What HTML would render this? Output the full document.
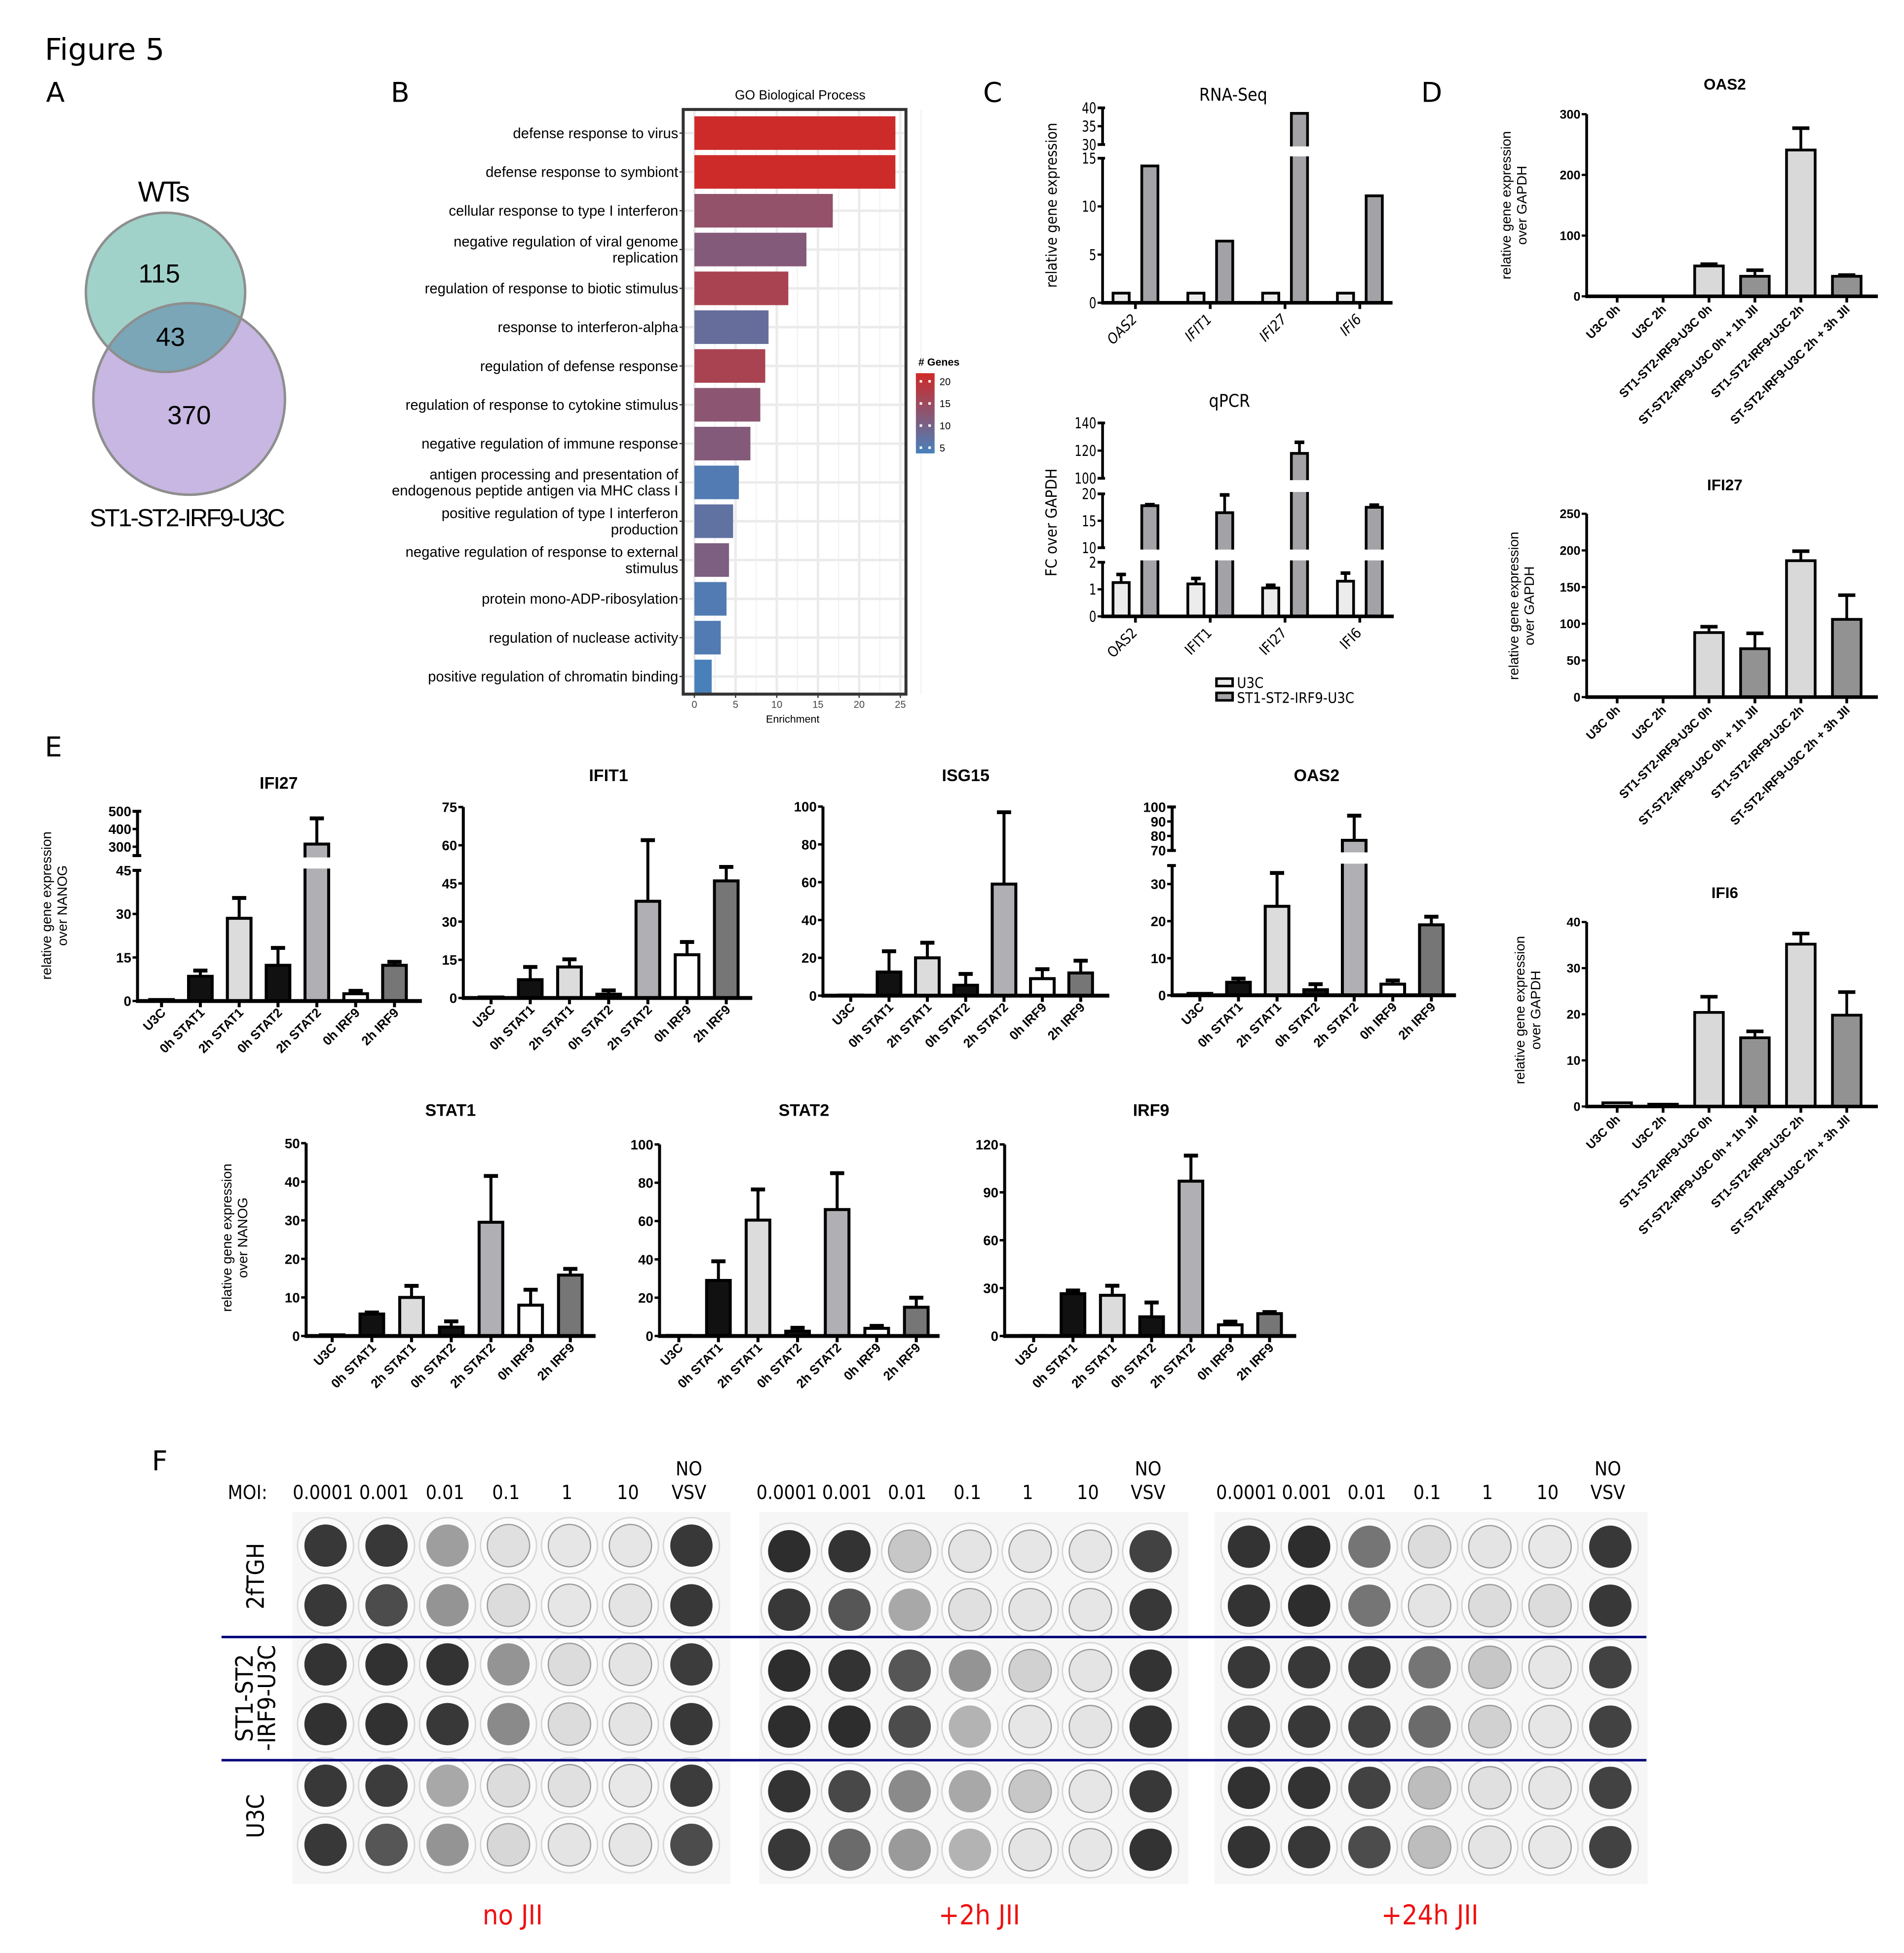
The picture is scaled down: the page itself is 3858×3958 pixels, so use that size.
<!DOCTYPE html>
<html><head><meta charset="utf-8"><style>html,body{margin:0;padding:0;background:#fff}svg{display:block}</style></head>
<body>
<svg id="fig" xmlns="http://www.w3.org/2000/svg" width="3858" height="3958" viewBox="0 0 1530 1570" preserveAspectRatio="none" font-family="Liberation Sans, Arial, sans-serif">
<rect width="1530" height="1570" fill="#fff"/>
<text x="36" y="48" font-size="24" font-family="DejaVu Sans, sans-serif">Figure 5</text>
<text x="37" y="82" font-size="22" font-family="DejaVu Sans, sans-serif">A</text>
<text x="314" y="82" font-size="22" font-family="DejaVu Sans, sans-serif">B</text>
<text x="790" y="82" font-size="22" font-family="DejaVu Sans, sans-serif">C</text>
<text x="1142" y="82" font-size="22" font-family="DejaVu Sans, sans-serif">D</text>
<text x="36" y="608" font-size="22" font-family="DejaVu Sans, sans-serif">E</text>
<text x="122" y="1182" font-size="22" font-family="DejaVu Sans, sans-serif">F</text>

<g>
<defs><clipPath id="tealclip"><circle cx="133" cy="235" r="64"/></clipPath></defs>
<circle cx="152" cy="320.7" r="77" fill="#c7b7e2"/>
<circle cx="133" cy="235" r="64" fill="#a0d2ca"/>
<circle cx="152" cy="320.7" r="77" fill="#7aa6b8" clip-path="url(#tealclip)"/>
<circle cx="152" cy="320.7" r="77" fill="none" stroke="#8e8e8e" stroke-width="2"/>
<circle cx="133" cy="235" r="64" fill="none" stroke="#8e8e8e" stroke-width="2"/>
<text x="131" y="162" font-size="23" text-anchor="middle" letter-spacing="-1.5">WTs</text>
<text x="128" y="227" font-size="21" text-anchor="middle">115</text>
<text x="137" y="278" font-size="21" text-anchor="middle">43</text>
<text x="152" y="341" font-size="21" text-anchor="middle">370</text>
<text x="150" y="423" font-size="20" text-anchor="middle" letter-spacing="-1.3">ST1-ST2-IRF9-U3C</text>
</g>

<g id="goChart"></g>
<g id="cCharts"></g>
<g id="dCharts"></g>
<g id="eCharts"></g>
<g id="fPanel"></g>
</svg>
<script>
// ---------- GO chart data ----------
const goTerms = [["defense response to virus"],["defense response to symbiont"],["cellular response to type I interferon"],["negative regulation of viral genome","replication"],["regulation of response to biotic stimulus"],["response to interferon-alpha"],["regulation of defense response"],["regulation of response to cytokine stimulus"],["negative regulation of immune response"],["antigen processing and presentation of","endogenous peptide antigen via MHC class I"],["positive regulation of type I interferon","production"],["negative regulation of response to external","stimulus"],["protein mono-ADP-ribosylation"],["regulation of nuclease activity"],["positive regulation of chromatin binding"]];
const goEnrichment = [24.4,24.4,16.8,13.6,11.4,9,8.6,8,6.8,5.4,4.7,4.2,3.9,3.2,2.1];
const goGenes = [21,21,13,11,16,7,16,12,11,4,6,10,4,4,3];
const goTicks = [0,5,10,15,20,25];
const goLegendTicks = [5,10,15,20];

// ---------- Panel C data ----------
const cGenes = ["OAS2","IFIT1","IFI27","IFI6"];
const rnaU3C = [1,1,1,1];
const rnaST = [14.2,6.4,38.5,11.1];
const rnaTicks = [0,5,10,15,30,35,40];
const qU3C = [1.25,1.2,1.05,1.3];
const qU3CErr = [0.3,0.2,0.1,0.3];
const qST = [17.8,16.5,118,17.5];
const qSTErr = [0.2,3.3,8,0.4];
const qTicks = [0,1,2,10,15,20,100,120,140];

// ---------- Panel D data ----------
const dLabels = ["U3C 0h","U3C 2h","ST1-ST2-IRF9-U3C 0h","ST-ST2-IRF9-U3C 0h + 1h JII","ST1-ST2-IRF9-U3C 2h","ST-ST2-IRF9-U3C 2h + 3h JII"];
const dOas2 = [0,0,50,33,241,33];
const dOas2Err = [0,0,3,10,36,2];
const dOas2Ticks = [0,100,200,300];
const dIfi27 = [0,0,88,66,186,106];
const dIfi27Err = [0,0,8,21,13,33];
const dIfi27Ticks = [0,50,100,150,200,250];
const dIfi6 = [0.8,0.5,20.4,14.9,35.2,19.8];
const dIfi6Err = [0,0,3.4,1.4,2.3,5];
const dIfi6Ticks = [0,10,20,30,40];

// ---------- Panel E data ----------
const eLabels = ["U3C","0h STAT1","2h STAT1","0h STAT2","2h STAT2","0h IRF9","2h IRF9"];
const eIfi27 = [0.5,8.5,28.5,12.3,315,2.5,12.3];
const eIfi27Err = [0,2,7,6,145,1,1.2];
const eIfi27Ticks = [0,15,30,45,300,400,500];
const eIfit1 = [0.4,7.2,12.2,1.5,38,17,46];
const eIfit1Err = [0,5,3,1.5,24,5,5.5];
const eIfit1Ticks = [0,15,30,45,60,75];
const eIsg15 = [0.3,12.5,20,5.5,59,9,12];
const eIsg15Err = [0,11,8,6,38,5,6.5];
const eIsg15Ticks = [0,20,40,60,80,100];
const eOas2 = [0.5,3.5,24,1.5,77,3,19];
const eOas2Err = [0,1,9,1.5,17,1,2.2];
const eOas2Ticks = [0,10,20,30,70,80,90,100];
const eStat1 = [0.3,5.7,10,2.3,29.5,8,15.8];
const eStat1Err = [0,0.4,3,1.5,12,4,1.6];
const eStat1Ticks = [0,10,20,30,40,50];
const eStat2 = [0.3,29,60.5,2.5,66,4,15];
const eStat2Err = [0,10,16,1.8,19,1.3,5];
const eStat2Ticks = [0,20,40,60,80,100];
const eIrf9 = [0.3,26.5,25.5,12,97,7,14];
const eIrf9Err = [0,2,6,9,16,2,1];
const eIrf9Ticks = [0,30,60,90,120];

// ---------- Panel F data (well darkness 0..1, rows x columns) ----------
const moiLabels = ["0.0001","0.001","0.01","0.1","1","10","VSV"];
const plateTitles = ["no JII","+2h JII","+24h JII"];
const plate1 = [[0.9,0.9,0.4,0.08,0.05,0.05,0.9],[0.9,0.8,0.45,0.1,0.05,0.06,0.9],[0.92,0.93,0.92,0.45,0.1,0.06,0.88],[0.93,0.93,0.9,0.5,0.1,0.06,0.9],[0.9,0.88,0.35,0.1,0.08,0.04,0.88],[0.9,0.75,0.45,0.12,0.06,0.05,0.8]];
const plate2 = [[0.95,0.92,0.2,0.06,0.05,0.05,0.85],[0.9,0.75,0.35,0.08,0.06,0.05,0.9],[0.95,0.92,0.75,0.45,0.15,0.06,0.92],[0.95,0.95,0.8,0.3,0.05,0.06,0.92],[0.92,0.82,0.5,0.35,0.2,0.05,0.9],[0.9,0.65,0.42,0.3,0.06,0.05,0.92]];
const plate3 = [[0.92,0.95,0.6,0.1,0.06,0.04,0.9],[0.92,0.95,0.6,0.06,0.1,0.1,0.9],[0.9,0.9,0.88,0.6,0.2,0.05,0.85],[0.9,0.9,0.85,0.65,0.15,0.05,0.85],[0.93,0.92,0.85,0.25,0.08,0.05,0.85],[0.92,0.9,0.8,0.25,0.06,0.04,0.85]];

const NS = "http://www.w3.org/2000/svg";
function el(tag, attrs, parent, txt){
  const e = document.createElementNS(NS, tag);
  for (const k in attrs) e.setAttribute(k, attrs[k]);
  if (txt !== undefined) e.textContent = txt;
  if (parent) parent.appendChild(e);
  return e;
}

// ===== GO chart =====
(function(){
  const g = document.getElementById('goChart');
  const x0 = 558, x25 = 723.5, top = 88, bottom = 558, rowTop = 107, rowStep = 31.2, bh = 27;
  const xs = v => x0 + (x25 - x0) * v / 25;
  const lo = [74,128,186], hi = [205,43,42];
  const col = n => { const t = Math.max(0, Math.min(1, (n - 3) / 18)); return 'rgb(' + lo.map((c,i)=>Math.round(c + (hi[i]-c)*t)).join(',') + ')'; };
  el('rect',{x:549,y:top,width:179,height:bottom-top,fill:'#fff'},g);
  goTicks.forEach(t=>{ el('line',{x1:xs(t),x2:xs(t),y1:top,y2:bottom,stroke:'#ebebeb','stroke-width':2},g);
    el('line',{x1:xs(t+2.5),x2:xs(t+2.5),y1:top,y2:bottom,stroke:'#f3f3f3','stroke-width':1},g); });
  goEnrichment.forEach((v,i)=>{ const cy = rowTop + i*rowStep;
    el('line',{x1:549,x2:728,y1:cy,y2:cy,stroke:'#ebebeb','stroke-width':2},g); });
  goEnrichment.forEach((v,i)=>{
    const cy = rowTop + i*rowStep;
    const r = el('rect',{x:x0,y:cy-bh/2,width:xs(v)-x0,height:bh,fill:col(goGenes[i])},g);
    
    
    const lines = goTerms[i];
    lines.forEach((ln,j)=>{
      const yy = cy + 4 + (lines.length===2 ? (j===0?-6.5:6.5) : 0);
      const t = el('text',{x:545,y:yy,'font-size':11.6,'text-anchor':'end'},g,ln);
      
      
    });
    el('line',{x1:546,x2:549,y1:cy,y2:cy,stroke:'#333','stroke-width':1},g);
  });
  el('rect',{x:549,y:top,width:179,height:bottom-top,fill:'none',stroke:'#333','stroke-width':2.4},g);
  goTicks.forEach(t=>{
    el('line',{x1:xs(t),x2:xs(t),y1:bottom,y2:bottom+3,stroke:'#333','stroke-width':1},g);
    const tx = el('text',{x:xs(t),y:bottom+11,'font-size':8,'text-anchor':'middle',fill:'#444'},g,String(t));
    
    
  });
  el('text',{x:637,y:581,'font-size':8.5,'text-anchor':'middle'},g,'Enrichment');
  el('text',{x:643,y:80,'font-size':10.5,'text-anchor':'middle'},g,'GO Biological Process');
  const lg = el('g',{},g);  
  el('text',{x:738,y:294,'font-size':8.5,'font-weight':'bold'},lg,'# Genes');
  const ly0 = 364, ly1 = 300;
  for (let k=0;k<32;k++){ const n = 3 + 18*k/31; const y = ly0 - (ly0-ly1)*(k+1)/32;
    el('rect',{x:736,y:y,width:15,height:(ly0-ly1)/32+0.5,fill:col(n)},lg); }
  goLegendTicks.forEach(t=>{ const y = ly0 - (ly0-ly1)*(t-3)/18 + 3;
    el('rect',{x:739,y:y-1,width:2,height:2,fill:'#fff'},lg); el('rect',{x:746,y:y-1,width:2,height:2,fill:'#fff'},lg);
    el('text',{x:755,y:y+3,'font-size':8},lg,String(t)); });
})();

// ===== generic bar chart helpers =====
function makeScale(segs){
  return v => { for (let i=0;i<segs.length;i++){ const s = segs[i];
      if (v <= s.v1){ if (v >= s.v0) return s.y0 + (s.y1 - s.y0)*(v - s.v0)/(s.v1 - s.v0); return i>0 ? segs[i-1].y1 : s.y0; } }
    return segs[segs.length-1].y1; };
}
function drawAxis(g, c, ticks, ys){
  const sw = c.sw;
  c.segs.forEach(s=>{ el('line',{x1:c.ax,x2:c.ax,y1:s.y0+ (s===c.segs[0]? sw/2:0),y2:s.y1,stroke:'#000','stroke-width':sw},g);
    if (c.segs.length>1){ el('line',{x1:c.ax-4,x2:c.ax+ (c.capR||2),y1:s.y1,y2:s.y1,stroke:'#000','stroke-width':sw},g);
      if (s!==c.segs[0]) el('line',{x1:c.ax-4,x2:c.ax+(c.capR||2),y1:s.y0,y2:s.y0,stroke:'#000','stroke-width':sw},g);} });
  ticks.forEach(t=>{ const y = ys(t);
    el('line',{x1:c.ax-4,x2:c.ax,y1:y,y2:y,stroke:'#000','stroke-width':sw*0.8},g);
    const tx = el('text',{x:c.ax-5,y:y+c.tfs*0.36,'font-size':c.tfs,'text-anchor':'end','font-weight':c.tfw||'normal','font-family':c.tff||'inherit',transform:c.tsx?('translate('+(c.ax-5)+','+(y)+') scale('+c.tsx+',1) translate('+(-(c.ax-5))+','+(-y)+')'):''},g,String(t));
    
    
  });
  el('line',{x1:c.ax-sw/2,x2:c.xEnd,y1:c.base,y2:c.base,stroke:'#000','stroke-width':sw*1.3},g);
}
function drawBars(g, c, ys, centers, vals, errs, colors, bw, name){
  vals.forEach((v,i)=>{
    const cx = centers[i], yt = ys(v), h = Math.max(c.base - yt, 0.01);
    const r = el('rect',{x:cx-bw/2,y:yt,width:bw,height:h,fill:colors[i],stroke:'#000','stroke-width':c.bsw},g);
    
    
    if (errs && errs[i] > 0){
      const ye = ys(v + errs[i]);
      el('line',{x1:cx,x2:cx,y1:yt,y2:ye,stroke:'#000','stroke-width':c.bsw},g);
      el('line',{x1:cx-bw*0.3,x2:cx+bw*0.3,y1:ye,y2:ye,stroke:'#000','stroke-width':c.bsw*1.3},g);
    }
    for (let k=0;k<c.segs.length-1;k++){ const gTop = c.segs[k+1].y0, gBot = c.segs[k].y1;
      if (yt < gTop) el('rect',{x:cx-bw/2-c.bsw,y:gTop+1.5,width:bw+2*c.bsw,height:gBot-gTop-3,fill:'#fff'},g); }
  });
}
function drawXLabels(g, c, centers, labels, fs, dy, opts){
  labels.forEach((lb,i)=>{
    const x = centers[i]+ (opts.dx||3), y = c.base + dy;
    el('line',{x1:centers[i],x2:centers[i],y1:c.base,y2:c.base+5,stroke:'#000','stroke-width':c.sw},g);
    const t = el('text',{x:x,y:y,'font-size':fs,'text-anchor':'end','font-weight':opts.fw||'bold','font-family':opts.ff||'inherit','font-style':opts.fst||'normal',transform:'rotate(-45 '+x+' '+y+')'},g,lb);
    
    
  });
}
function yTitle(g, x, y, lines, fs, opts){
  lines.forEach((ln,j)=>{ const xx = x + j*fs*1.15;
    const t = el('text',{x:xx,y:y,'font-size':fs,'text-anchor':'middle','font-weight':opts.fw||'normal','font-family':opts.ff||'inherit',transform:'rotate(-90 '+xx+' '+y+')'},g,ln);
    
     });
}
function title(g, x, y, txt, fs, opts){
  const t = el('text',{x:x,y:y,'font-size':fs,'text-anchor':'middle','font-weight':opts.fw||'bold','font-family':opts.ff||'inherit'},g,txt);
  
  
}
function rangeCenters(first, step, n){ const a=[]; for(let i=0;i<n;i++) a.push(first+step*i); return a; }

// ===== Panel C =====
(function(){
  const root = document.getElementById('cCharts');
  const ff = 'DejaVu Sans Condensed, DejaVu Sans, sans-serif';
  const groupC = rangeCenters(912.4, 60.1, 4);
  const u3cC = groupC.map(x=>x-11.5), stC = groupC.map(x=>x+11.6);
  let g = el('g',{},root);  
  let c = {ax:886,base:243.4,xEnd:1119,sw:2.2,bsw:2.2,tfs:12,tff:ff,tsx:0.85,segs:[{v0:0,v1:15,y0:243.4,y1:127.2},{v0:30,v1:40,y0:116.2,y1:86.7}]};
  let ys = makeScale(c.segs);
  drawBars(g,c,ys,u3cC,rnaU3C,null,rnaU3C.map(()=>'#ececec'),13,'rna-u3c');
  drawBars(g,c,ys,stC,rnaST,null,rnaST.map(()=>'#a3a3a7'),13,'rna-st');
  drawAxis(g,c,rnaTicks,ys);
  drawXLabels(g,c,groupC,cGenes,11.5,14,{ff:ff,fw:'normal',fst:'italic',dx:2});
  title(g,991,81,'RNA-Seq',14,{fw:'normal',ff:ff});
  yTitle(g,849,165,['relative gene expression'],12,{ff:ff});
  g = el('g',{},root);  
  c = {ax:886,base:495.5,xEnd:1120,sw:2.2,bsw:2.2,tfs:12,tff:ff,tsx:0.85,segs:[{v0:0,v1:2,y0:495.5,y1:452},{v0:10,v1:20,y0:440.3,y1:397},{v0:100,v1:140,y0:384.5,y1:340}]};
  ys = makeScale(c.segs);
  drawBars(g,c,ys,u3cC,qU3C,qU3CErr,qU3C.map(()=>'#ececec'),13,'qpcr-u3c');
  drawBars(g,c,ys,stC,qST,qSTErr,qST.map(()=>'#a3a3a7'),13,'qpcr-st');
  drawAxis(g,c,qTicks,ys);
  drawXLabels(g,c,groupC,cGenes,11.5,14,{ff:ff,fw:'normal',dx:2});
  title(g,988,327,'qPCR',14,{fw:'normal',ff:ff});
  yTitle(g,849,420,['FC over GAPDH'],12.5,{ff:ff});
  const lg = el('g',{},g);  
  el('rect',{x:977.5,y:545.5,width:13,height:6,fill:'#ececec',stroke:'#000','stroke-width':2},lg);
  el('rect',{x:977.5,y:557,width:13,height:6,fill:'#a3a3a7',stroke:'#000','stroke-width':2},lg);
  el('text',{x:994,y:553,'font-size':11.5,'font-family':ff},lg,'U3C');
  el('text',{x:994,y:565,'font-size':11.5,'font-family':ff},lg,'ST1-ST2-IRF9-U3C');
})();

// ===== Panel D =====
(function(){
  const root = document.getElementById('dCharts');
  const cols = ['#fff','#fff','#d9d9d9','#929292','#d9d9d9','#929292'];
  const centers = rangeCenters(1299.5, 36.9, 6);
  const specs = [
    {name:'d-oas2',title:'OAS2',ty:72,vals:dOas2,errs:dOas2Err,ticks:dOas2Ticks,base:238.2,top:91.8,vmax:300,yt:[1214,165]},
    {name:'d-ifi27',title:'IFI27',ty:394,vals:dIfi27,errs:dIfi27Err,ticks:dIfi27Ticks,base:560.4,top:413,vmax:250,yt:[1220,487]},
    {name:'d-ifi6',title:'IFI6',ty:722,vals:dIfi6,errs:dIfi6Err,ticks:dIfi6Ticks,base:889.5,top:741.2,vmax:40,yt:[1225,812]}];
  specs.forEach(s=>{
    const g = el('g',{},root);  
    const c = {ax:1275,base:s.base,xEnd:1509,sw:2.2,bsw:2.2,tfs:10,tfw:'bold',segs:[{v0:0,v1:s.vmax,y0:s.base,y1:s.top}]};
    const ys = makeScale(c.segs);
    drawBars(g,c,ys,centers,s.vals,s.errs,cols,23,s.name);
    drawAxis(g,c,s.ticks,ys);
    drawXLabels(g,c,centers,dLabels,9.8,11,{fw:'bold',dx:3});
    title(g,1386,s.ty,s.title,12.5,{fw:'bold'});
    yTitle(g,s.yt[0],s.yt[1],['relative gene expression','over GAPDH'],11,{});
  });
})();

// ===== Panel E =====
(function(){
  const root = document.getElementById('eCharts');
  const cols = ['#fff','#111','#dcdcdc','#111','#b0b0b4','#fff','#767676'];
  const nf = 'Liberation Sans Narrow, Liberation Sans, sans-serif';
  const specs = [
    {name:'e-ifi27',title:'IFI27',tx:224,ty:634,ax:110.5,base:804.7,xEnd:339,c0:129.8,step:31.2,vals:eIfi27,errs:eIfi27Err,ticks:eIfi27Ticks,segs:[{v0:0,v1:45,y0:804.7,y1:699.7},{v0:250,v1:500,y0:687.8,y1:652.2}],yt:[41,728]},
    {name:'e-ifit1',title:'IFIT1',tx:489,ty:628,ax:372.3,base:802.3,xEnd:604.5,c0:394.6,step:31.5,vals:eIfit1,errs:eIfit1Err,ticks:eIfit1Ticks,segs:[{v0:0,v1:75,y0:802.3,y1:648.8}]},
    {name:'e-isg15',title:'ISG15',tx:776,ty:628,ax:661.3,base:800.4,xEnd:891.4,c0:683.6,step:30.8,vals:eIsg15,errs:eIsg15Err,ticks:eIsg15Ticks,segs:[{v0:0,v1:100,y0:800.4,y1:648.4}]},
    {name:'e-oas2',title:'OAS2',tx:1058,ty:628,ax:941.9,base:800.1,xEnd:1170,c0:964.2,step:31,vals:eOas2,errs:eOas2Err,ticks:eOas2Ticks,segs:[{v0:0,v1:35,y0:800.1,y1:695.8},{v0:70,v1:100,y0:683.7,y1:648.7}]},
    {name:'e-stat1',title:'STAT1',tx:362,ty:897,ax:246,base:1074,xEnd:478.6,c0:266.9,step:31.9,vals:eStat1,errs:eStat1Err,ticks:eStat1Ticks,segs:[{v0:0,v1:50,y0:1074,y1:919}],yt:[186,995]},
    {name:'e-stat2',title:'STAT2',tx:646,ty:897,ax:530,base:1074,xEnd:755,c0:545.5,step:31.8,vals:eStat2,errs:eStat2Err,ticks:eStat2Ticks,segs:[{v0:0,v1:100,y0:1074,y1:920}]},
    {name:'e-irf9',title:'IRF9',tx:925,ty:897,ax:807.3,base:1074,xEnd:1041.6,c0:830.6,step:31.6,vals:eIrf9,errs:eIrf9Err,ticks:eIrf9Ticks,segs:[{v0:0,v1:120,y0:1074,y1:920}]}];
  specs.forEach(s=>{
    const g = el('g',{},root);  
    const c = {ax:s.ax,base:s.base,xEnd:s.xEnd,sw:2.4,bsw:2.4,tfs:11,tfw:'bold',tff:nf,segs:s.segs,capR:3};
    const ys = makeScale(c.segs);
    const centers = rangeCenters(s.c0, s.step, 7);
    drawBars(g,c,ys,centers,s.vals,s.errs,cols,19,s.name);
    drawAxis(g,c,s.ticks,ys);
    drawXLabels(g,c,centers,eLabels,10.3,10,{fw:'bold',dx:4});
    title(g,s.tx,s.ty,s.title,13.5,{fw:'bold',ff:nf});
    if (s.yt) yTitle(g,s.yt[0],s.yt[1],['relative gene expression','over NANOG'],11,{});
  });
})();

// ===== Panel F =====
(function(){
  const root = document.getElementById('fPanel');
  const ff = 'DejaVu Sans Condensed, DejaVu Sans, sans-serif';
  const plates = [plate1, plate2, plate3];
  const geo = [
    {x:235,w:352,cols:rangeCenters(261.6,49,7),rows:[1242.5,1290.5,1338,1386,1435.5,1483],tx:412},
    {x:610,w:345,cols:rangeCenters(634.2,48.4,7),rows:[1247,1294,1343,1388,1440,1487],tx:787},
    {x:976,w:348,cols:rangeCenters(1003.6,48.4,7),rows:[1243.4,1290.8,1340.3,1388,1437.2,1484.9],tx:1149}];
  geo.forEach((p,pi)=>{
    const g = el('g',{},root);  
    el('rect',{x:p.x,y:1215.5,width:p.w,height:299,fill:'#f6f6f6'},g);
    plates[pi].forEach((row,ri)=>row.forEach((d,ci)=>{
      const cx = p.cols[ci], cy = p.rows[ri];
      el('circle',{cx:cx,cy:cy,r:22.5,fill:'#fbfbfb',stroke:'#d8d8d8','stroke-width':1.2},g);
      const lv = Math.round(240 - d*205);
      const w = el('circle',{cx:cx,cy:cy,r:17,fill:'rgb('+lv+','+lv+','+lv+')',stroke:'#9a9a9a','stroke-width':d<0.3?1:0},g);
      
      
    }));
    moiLabels.forEach((m,ci)=>{
      const t = el('text',{x:p.cols[ci]-2,y:1205,'font-size':15.5,'text-anchor':'middle','font-family':ff},g,m);
      
      
    });
    el('text',{x:p.cols[6]-2,y:1186,'font-size':15.5,'text-anchor':'middle','font-family':ff},g,'NO');
    const tt = el('text',{x:p.tx,y:1547,'font-size':22,'text-anchor':'middle','font-family':ff,fill:'#ee1111'},g,plateTitles[pi]);
    
    
  });
  el('text',{x:183,y:1205,'font-size':15.5,'font-family':ff},root,'MOI:');
  [1316,1415].forEach(y=>{ const l = el('line',{x1:178,x2:1323,y1:y,y2:y,stroke:'#00007a','stroke-width':2},root);
      });
  const rl = [[['2fTGH'],1267],[['ST1-ST2','-IRF9-U3C'],1365],[['U3C'],1460]];
  rl.forEach(([lines,cy])=>{ lines.forEach((ln,j)=>{ const x = 212 + (lines.length===2 ? (j===0?-9:9):0);
    const t = el('text',{x:x,y:cy,'font-size':19,'text-anchor':'middle','font-family':ff,transform:'rotate(-90 '+x+' '+cy+')'},root,ln);
      }); });
})();
</script>
</body></html>
